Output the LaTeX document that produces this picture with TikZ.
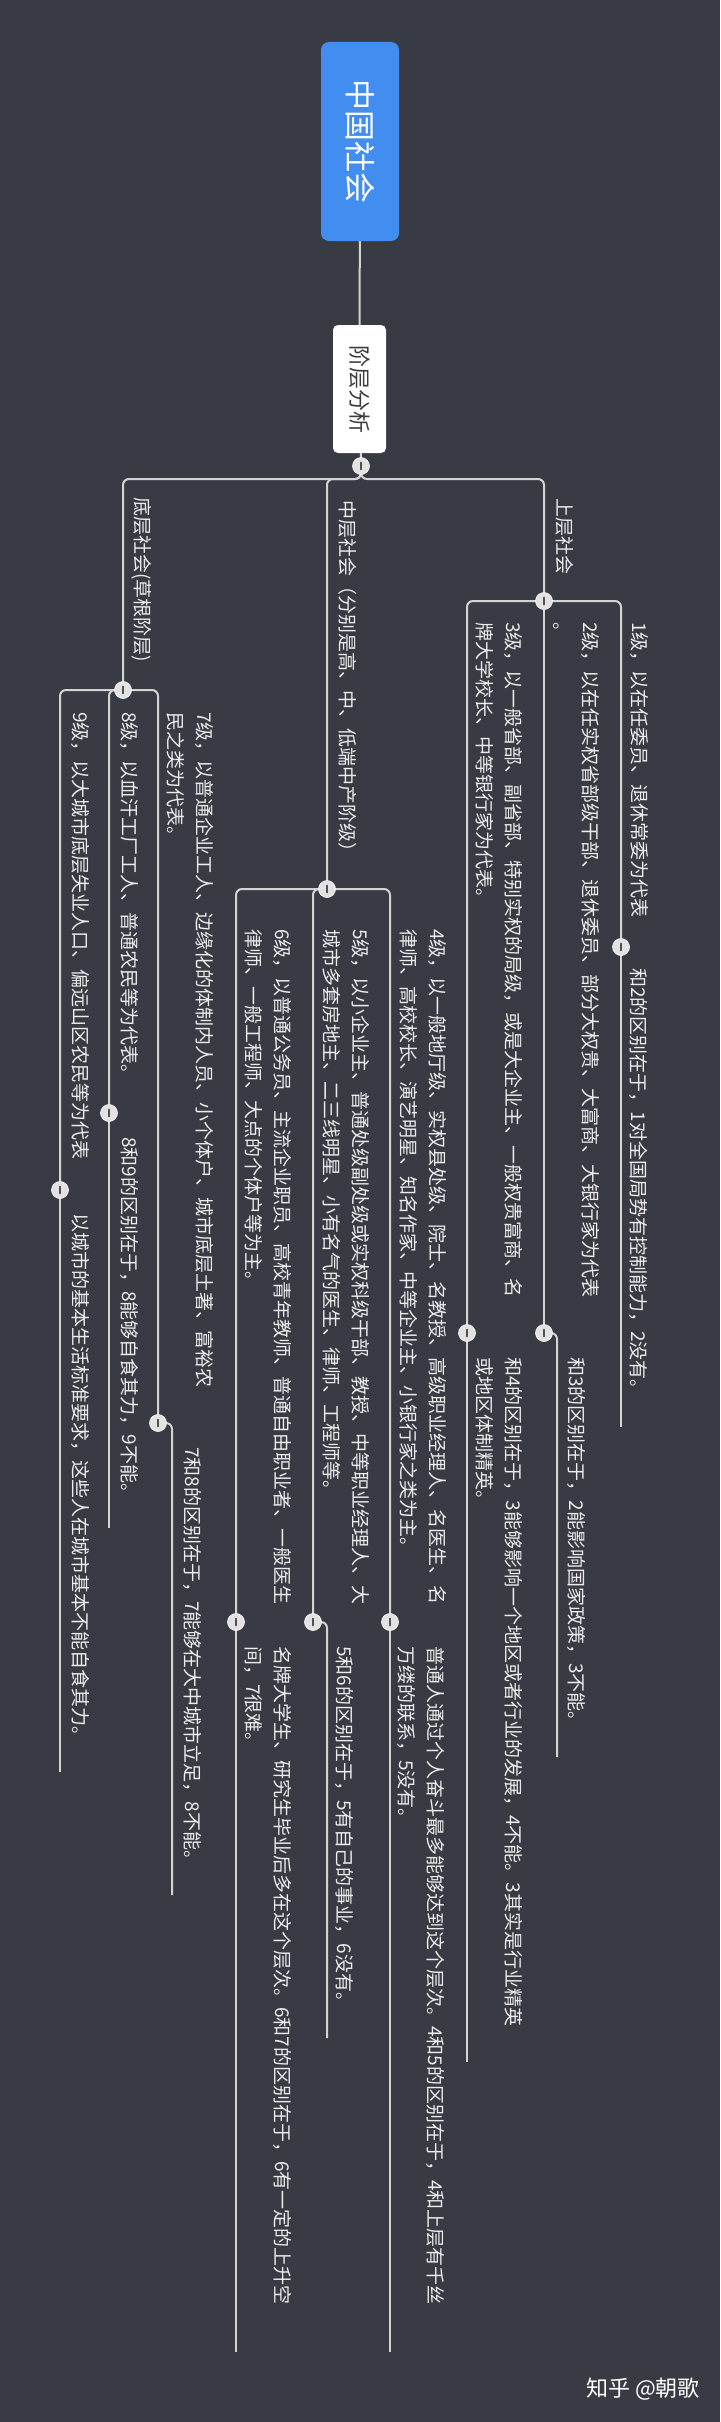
\documentclass[tikz,border=0pt]{standalone}
\usepackage{fontspec}
\setmainfont{Noto Sans CJK SC}
\definecolor{bgdark}{RGB}{56,59,67}
\definecolor{linegray}{RGB}{212,212,212}
\definecolor{txtwhite}{RGB}{236,236,236}
\definecolor{rootblue}{RGB}{66,142,240}
\definecolor{hubtext}{RGB}{60,60,60}
\definecolor{btnfill}{RGB}{226,226,226}
\definecolor{btnbar}{RGB}{80,80,80}
\pgfdeclarelayer{back}
\pgfdeclarelayer{links}
\pgfsetlayers{back,links,main}
\tikzset{
 topic/.style={rotate=-90, anchor=north west, inner sep=0pt, align=left, text=txtwhite, font=\fontsize{19}{29}\selectfont},
 link/.style={draw=linegray, line width=2pt, rounded corners=6pt},
 btn/.style={circle, minimum size=17pt, inner sep=0pt, fill=btnfill, draw=white, line width=0.6pt,
  path picture={\draw[btnbar, line width=1.6pt] ([yshift=-3.5pt]path picture bounding box.center) -- ([yshift=3.5pt]path picture bounding box.center);}},
 rootbox/.style={rotate=-90, fill=rootblue, rounded corners=8pt, minimum width=199pt, minimum height=78pt, text=white, font=\fontsize{31}{31}\selectfont},
 hubbox/.style={rotate=-90, fill=white, rounded corners=5pt, minimum width=128pt, minimum height=53pt, text=hubtext, font=\fontsize{22}{22}\selectfont},
 wmark/.style={text=white, font=\fontsize{22}{22}\selectfont},
}
\begin{document}
\begin{tikzpicture}[x=1pt, y=-1pt, line join=round, line cap=round]
 \useasboundingbox (0,0) rectangle (720,2422);
 \begin{pgfonlayer}{back}
 \fill[bgdark] (0,0) rectangle (720,2422);
 \end{pgfonlayer}
 \node[rootbox] (root) at (360,141.5) {中国社会};
 \node[hubbox] (hub) at (359.5,389) {阶层分析};
 \foreach \n/\x/\y in {b0/361/466, bU/544/601, bM/327/889, bL/123/690,
  b1/621/947, b2/544/1333, b3/467/1333, b4/390/1622, b5/313/1622, b6/236/1622,
  b7/158/1423, b8/109/1113, b9/60/1190}
  \node[btn] (\n) at (\x,\y) {};
 \foreach \n/\x/\y in {e1/621/1427, e2/557/1757, e3/467/2062, e4/390/2352, e5/327/2038,
  e6/236/2352, e7/172/1895, e8/109/1528, e9/60/1772}
  \coordinate (\n) at (\x,\y);
 \node[topic] (tU) at (574,498) {上层社会};
 \node[topic] (tM) at (357,500) {中层社会（分别是高、中、低端中产阶级）};
 \node[topic] (tL) at (152,497) {底层社会(草根阶层)};
 \node[topic] (t1) at (649,622) {1级，以在任委员、退休常委为代表};
 \node[topic] (t2) at (600,622) {2级，以在任实权省部级干部、退休委员、部分大权贵、大富商、大银行家为代表\\。};
 \node[topic] (t3) at (523,622) {3级，以一般省部、副省部、特别实权的局级，或是大企业主、一般权贵富商、名\\牌大学校长、中等银行家为代表。};
 \node[topic] (t4) at (447,929) {4级，以一般地厅级、实权县处级、院士、名教授、高级职业经理人、名医生、名\\律师、高校校长、演艺明星、知名作家、中等企业主、小银行家之类为主。};
 \node[topic] (t5) at (370,929) {5级，以小企业主、普通处级副处级或实权科级干部、教授、中等职业经理人、大\\城市多套房地主、二三线明星、小有名气的医生、律师、工程师等。};
 \node[topic] (t6) at (292,929) {6级，以普通公务员、主流企业职员、高校青年教师、普通自由职业者、一般医生\\律师、一般工程师、大点的个体户等为主。};
 \node[topic] (t7) at (214,712) {7级，以普通企业工人、边缘化的体制内人员、小个体户、城市底层土著、富裕农\\民之类为代表。};
 \node[topic] (t8) at (139,712) {8级，以血汗工厂工人、普通农民等为代表。};
 \node[topic] (t9) at (90,712) {9级，以大城市底层失业人口、偏远山区农民等为代表};
 \node[topic] (c1) at (648,968) {和2的区别在于，1对全国局势有控制能力，2没有。};
 \node[topic] (c2) at (586,1357) {和3的区别在于，2能影响国家政策，3不能。};
 \node[topic] (c3) at (523,1357) {和4的区别在于，3能够影响一个地区或者行业的发展，4不能。3其实是行业精英\\或地区体制精英。};
 \node[topic] (c4) at (445,1646) {普通人通过个人奋斗最多能够达到这个层次。4和5的区别在于，4和上层有千丝\\万缕的联系，5没有。};
 \node[topic] (c5) at (354,1646) {5和6的区别在于，5有自己的事业，6没有。};
 \node[topic] (c6) at (292,1646) {名牌大学生、研究生毕业后多在这个层次。6和7的区别在于，6有一定的上升空\\间，7很难。};
 \node[topic] (c7) at (202,1447) {7和8的区别在于，7能够在大中城市立足，8不能。};
 \node[topic] (c8) at (139,1137) {8和9的区别在于，8能够自食其力，9不能。};
 \node[topic] (c9) at (90,1213) {以城市的基本生活标准要求，这些人在城市基本不能自食其力。};
 \node[wmark] (zh) at (643,2389) {知乎 @朝歌};
 \begin{pgfonlayer}{links}
 \draw[link] (root) -- (hub) -- (b0.center);
 \foreach \k in {bU,bM,bL}
  \draw[link] (b0.center) -- ++(0,13) -| (\k.center);
 \foreach \p/\k in {bU/b1, bU/b3, bM/b4, bM/b5, bM/b6, bL/b7, bL/b8, bL/b9}
  \draw[link] (\p.center) -| (\k.center);
 \draw[link] (bU.center) -- (b2.center);
 \foreach \k/\e in {b1/e1, b3/e3, b4/e4, b6/e6, b8/e8, b9/e9}
  \draw[link] (\k.center) -- (\e);
 \foreach \k/\e in {b2/e2, b5/e5, b7/e7}
  \draw[link] (\k.center) -| (\e);
 \end{pgfonlayer}
\end{tikzpicture}
\end{document}
